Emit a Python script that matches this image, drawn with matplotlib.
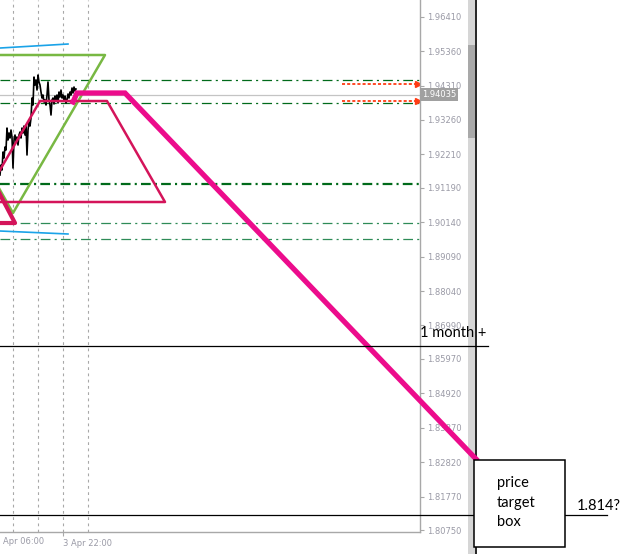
import numpy as np
import matplotlib.pyplot as plt
from matplotlib.patches import Rectangle

plt.rcParams['lines.scale_dashes'] = False

# sumbu harga di kanan
price_ticks = [1.96410, 1.95360, 1.94310, 1.93260, 1.92210, 1.91190, 1.90140,
               1.89090, 1.88040, 1.86990, 1.85970, 1.84920, 1.83870, 1.82820,
               1.81770, 1.80750]
bid_price = 1.94035

# waktu dalam jam relatif ke 3 Apr 22:00
grid_hours = [-16, -8, 0, 8]
bar_step = 0.32
bar_start = -20.16
close_prices = [1.91581, 1.91885, 1.91733, 1.92282, 1.92099, 1.92435, 1.92343, 1.93014,
                1.92648, 1.92862, 1.92709, 1.92953, 1.92740, 1.91794, 1.92648, 1.92801,
                1.92587, 1.92740, 1.92496, 1.92801, 1.92892, 1.92709, 1.93014, 1.92862,
                1.93075, 1.92801, 1.93106, 1.92191, 1.92953, 1.93198, 1.93075, 1.93320,
                1.93930, 1.93716, 1.94570, 1.94326, 1.94479, 1.94174, 1.94631, 1.94418,
                1.94326, 1.94113, 1.93930, 1.94021, 1.93808, 1.93869, 1.93716, 1.94021,
                1.94418, 1.93869, 1.93716, 1.93411, 1.93869, 1.93930, 1.93747, 1.93991,
                1.93869, 1.94021, 1.93777, 1.94113, 1.93960, 1.94174, 1.93930, 1.94021,
                1.93869, 1.93991, 1.93777, 1.93869, 1.94052, 1.93930, 1.94113, 1.94021,
                1.94235, 1.94082, 1.94265, 1.94143, 1.94204]

# garis level horizontal
levels_thin = [1.94479, 1.93777]
level_thick = 1.91297
levels_light = [1.90107, 1.89619]
arrow_levels = [1.94357, 1.93838]
arrow_from, arrow_to = 89.3, 113.6

# bentuk-bentuk gambar
pink_h = [3.2, 4.48, 19.84, 132.16]
pink_p = [1.93808, 1.94082, 1.94082, 1.82916]
trap_h = [-26.11, -7.36, 14.08, 32.64, -26.11]
trap_p = [1.90757, 1.93838, 1.93838, 1.90757, 1.90757]
small_h = [-21.76, -15.36, -23.36]
small_p = [1.91276, 1.90116, 1.90116]
green_h = [-44.5, 13.44, -16.0, -44.5]
green_p = [1.95242, 1.95242, 1.90421, 1.95242]
blue1_h, blue1_p = [-20.16, 1.6], [1.95455, 1.95577]
blue2_h, blue2_p = [-20.16, 1.6], [1.89872, 1.89781]

# anotasi
month_level = 1.86364
target_level = 1.81208
box_h, box_w = 131.5, 29.1
box_low, box_high = 1.80232, 1.82886

fig = plt.figure(figsize=(6.25, 5.54), dpi=100)
ax = fig.add_axes([0, 22 / 554, 420 / 625, 532 / 554])
ax.set_xlim(-20.16, 114.24)
ax.set_ylim(1.80689, 1.96920)
y_bottom = 1.80018

for s in ['left', 'top']:
    ax.spines[s].set_visible(False)
for s in ['right', 'bottom']:
    ax.spines[s].set_color('#a8a8a8')
    ax.spines[s].set_linewidth(1)

ax.yaxis.tick_right()
ax.set_yticks(price_ticks)
ax.set_yticklabels(['%.5f' % p for p in price_ticks])
ax.tick_params(axis='y', length=3, width=0.8, color='#a8a8a8', pad=2,
               labelsize=6, labelcolor='#9a9aa6')
ax.set_xticks([0])
ax.set_xticklabels(['3 Apr 22:00'], ha='left')
ax.tick_params(axis='x', length=3, width=0.8, color='#a8a8a8', pad=2,
               labelsize=6, labelcolor='#9a9aa6')
ax.text(-19.2, -0.01, 'Apr 06:00', transform=ax.get_xaxis_transform(),
        fontsize=6, color='#9a9aa6', va='top', ha='left')

for h in grid_hours:
    ax.axvline(h, color='#a8a8a8', lw=0.8, ls=(0, (2, 2.5)), zorder=0)

ax.axhline(bid_price, color='#c4c4c4', lw=0.9, zorder=1)
for lv in levels_thin:
    ax.axhline(lv, color='#006a1a', lw=0.9, ls=(0, (7, 3, 1.5, 3)), zorder=1)
ax.axhline(level_thick, color='#006a1a', lw=1.6, ls=(0, (7, 3, 1.5, 3)), zorder=1)
for lv in levels_light:
    ax.axhline(lv, color='#2e8b57', lw=0.9, ls=(0, (7, 3, 1.5, 3)), zorder=1)

for lv in arrow_levels:
    ax.plot([arrow_from, arrow_to], [lv, lv], color='#ff3c14', lw=1.3,
            ls=(0, (2.2, 1.5)), zorder=2)
    ax.plot([arrow_to], [lv], marker='>', color='#ff3c14', ms=5, zorder=2)

bar_hours = bar_start + bar_step * np.arange(len(close_prices))
ax.plot(bar_hours, close_prices, color='black', lw=1.2, zorder=3)

ax.plot(blue1_h, blue1_p, color='#1aa3e8', lw=1.2, zorder=3)
ax.plot(blue2_h, blue2_p, color='#1aa3e8', lw=1.2, zorder=3)
ax.plot(green_h, green_p, color='#78b843', lw=1.8, zorder=3)
ax.plot(trap_h, trap_p, color='#d4145a', lw=1.8, zorder=4)
ax.plot(small_h, small_p, color='#d4145a', lw=3, zorder=4)

ax.annotate('%.5f' % bid_price, xy=(1, bid_price), xycoords=('axes fraction', 'data'),
            xytext=(1.5, 0), textcoords='offset points', va='center', ha='left',
            fontsize=6, color='white', annotation_clip=False, zorder=5,
            bbox=dict(boxstyle='square,pad=0.2', fc='#a0a0a0', ec='none'))

# scrollbar dan batas jendela
ax.add_patch(Rectangle((129.6, y_bottom), 2.24, 1.96920 - y_bottom, fc='#d6d6d6',
                       ec='none', clip_on=False, zorder=5))
ax.add_patch(Rectangle((129.6, 1.92709), 2.24, 0.02838, fc='#a9a9a9',
                       ec='none', clip_on=False, zorder=5))
ax.plot([132.2, 132.2], [y_bottom, 1.96920], color='black', lw=1.2,
        clip_on=False, zorder=6)

ax.plot(pink_h, pink_p, color='#ec0c8c', lw=3.8, solid_joinstyle='miter',
        clip_on=False, zorder=7)

ax.plot([-20.16, 136.0], [month_level, month_level], color='black', lw=0.9,
        clip_on=False, zorder=7)
ax.plot([-20.16, box_h], [target_level, target_level], color='black', lw=0.9,
        clip_on=False, zorder=7)
ax.plot([box_h + box_w, 174.1], [target_level, target_level], color='black', lw=0.9,
        clip_on=False, zorder=7)
ax.add_patch(Rectangle((box_h, box_low), box_w, box_high - box_low, fc='white',
                       ec='black', lw=1.1, clip_on=False, zorder=8))

ax.text(114.24, 1.86760, '1 month +', fontsize=10.5, family='Lato', va='center',
        ha='left', color='black', zorder=9, clip_on=False)
ax.text(138.9, 1.81574, 'price\ntarget\nbox', fontsize=10.5, family='Lato',
        va='center', ha='left', linespacing=1.5, zorder=9, clip_on=False)
ax.text(164.5, 1.81483, '1.814?', fontsize=10.5, family='Lato', va='center',
        ha='left', zorder=9, clip_on=False)

fig.savefig('out.png', dpi=100)
